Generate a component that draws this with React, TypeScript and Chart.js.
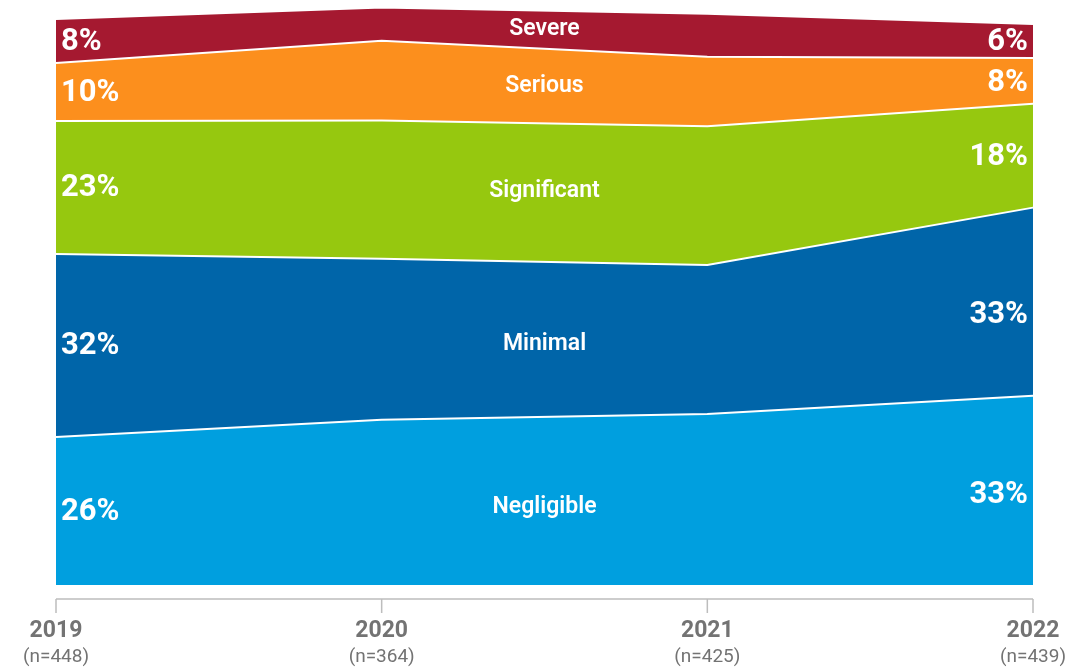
import React, { useEffect, useRef } from "react";
import { Chart, registerables } from "chart.js";

Chart.register(...registerables);

const years = ["2019", "2020", "2021", "2022"];
const sampleSizes = ["(n=448)", "(n=364)", "(n=425)", "(n=439)"];

const seriesNames = ["Negligible", "Minimal", "Significant", "Serious", "Severe"];
const negligible = [25.8, 28.8, 29.8, 33.0];
const minimal = [31.9, 28.1, 26.0, 32.8];
const significant = [23.2, 24.1, 24.2, 18.1];
const serious = [10.1, 13.9, 12.1, 8.0];
const severe = [7.7, 5.8, 7.5, 5.9];

const leftLabels = ["26%", "32%", "23%", "10%", "8%"];
const rightLabels = ["33%", "33%", "18%", "8%", "6%"];

const colors = ["#009fdf", "#0065a9", "#96c80f", "#fc8f1d", "#a51930"];

const FONT = "Roboto, 'Open Sans', sans-serif";

// small vertical nudges (px) for label placement
const centerNudge = [6, 5, -1, 0, 0];
const rightNudge = [4, 13, 1, 1, 0];

const labelPlugin = {
  id: "bandLabels",
  afterDatasetsDraw(chart: any) {
    const { ctx, scales } = chart;
    const x = scales.x;
    const y = scales.y;
    const all = [negligible, minimal, significant, serious, severe];
    const n = years.length;
    const cum = (band: number, i: number) => {
      let s = 0;
      for (let b = 0; b <= band; b++) s += all[b][i];
      return s;
    };
    const mid = (band: number, i: number) => {
      const top = cum(band, i);
      const bot = top - all[band][i];
      return (y.getPixelForValue(top) + y.getPixelForValue(bot)) / 2;
    };
    ctx.save();
    ctx.fillStyle = "#ffffff";
    ctx.textBaseline = "middle";
    ctx.font = `bold 31px ${FONT}`;
    ctx.textAlign = "left";
    for (let b = 0; b < all.length; b++) {
      ctx.fillText(leftLabels[b], x.getPixelForValue(0) + 5, mid(b, 0) + 1);
    }
    ctx.textAlign = "right";
    for (let b = 0; b < all.length; b++) {
      ctx.fillText(rightLabels[b], x.getPixelForValue(n - 1) - 5, mid(b, n - 1) + 1 + rightNudge[b]);
    }
    ctx.font = `600 23px ${FONT}`;
    ctx.textAlign = "center";
    const cx = (x.getPixelForValue(1) + x.getPixelForValue(2)) / 2;
    for (let b = 0; b < all.length; b++) {
      const cy = (mid(b, 1) + mid(b, 2)) / 2 + centerNudge[b];
      ctx.fillText(seriesNames[b], cx, cy);
    }
    ctx.restore();
  },
};

const axisPlugin = {
  id: "customAxis",
  afterDraw(chart: any) {
    const { ctx, scales, chartArea } = chart;
    const x = scales.x;
    const axisY = chartArea.bottom + 14;
    ctx.save();
    ctx.strokeStyle = "#bdbdbd";
    ctx.lineWidth = 1.5;
    ctx.beginPath();
    ctx.moveTo(x.getPixelForValue(0), axisY);
    ctx.lineTo(x.getPixelForValue(years.length - 1), axisY);
    for (let i = 0; i < years.length; i++) {
      const px = x.getPixelForValue(i);
      ctx.moveTo(px, axisY);
      ctx.lineTo(px, axisY + 14);
    }
    ctx.stroke();
    ctx.textAlign = "center";
    ctx.textBaseline = "middle";
    for (let i = 0; i < years.length; i++) {
      const px = x.getPixelForValue(i);
      ctx.fillStyle = "#737373";
      ctx.font = `bold 23px ${FONT}`;
      ctx.fillText(years[i], px, axisY + 32);
      ctx.font = `19px ${FONT}`;
      ctx.fillText(sampleSizes[i], px, axisY + 58);
    }
    ctx.restore();
  },
};

export default function App() {
  const ref = useRef<HTMLCanvasElement | null>(null);
  useEffect(() => {
    if (!ref.current) return;
    const series = [negligible, minimal, significant, serious, severe];
    const chart = new Chart(ref.current, {
      type: "line",
      data: {
        labels: years,
        datasets: series.map((d, i) => ({
          label: seriesNames[i],
          data: d,
          backgroundColor: colors[i],
          borderColor: "#ffffff",
          borderWidth: 2,
          pointRadius: 0,
          tension: 0,
          fill: i === 0 ? "origin" : "-1",
        })),
      },
      options: {
        responsive: false,
        animation: false,
        layout: { padding: { left: 56, right: 48, top: 0, bottom: 82 } },
        plugins: {
          legend: { display: false },
          tooltip: { enabled: false },
        },
        scales: {
          x: { type: "category", display: false, offset: false },
          y: { display: false, stacked: true, min: 0, max: 102 },
        },
      },
      plugins: [labelPlugin, axisPlugin],
    });
    return () => chart.destroy();
  }, []);
  return (
    <div style={{ position: "fixed", left: 0, top: 0, width: 1081, height: 667, background: "#fff" }}>
      <canvas ref={ref} width={1081} height={667} />
    </div>
  );
}
